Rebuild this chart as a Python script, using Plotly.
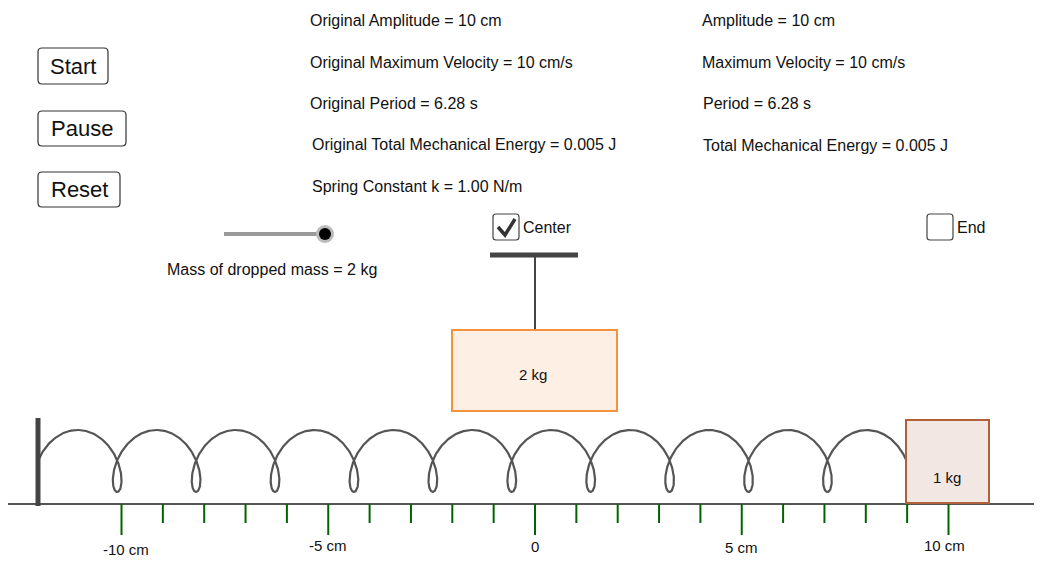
import numpy as np
import plotly.graph_objects as go

# ---- data ----
tick_cm = list(range(-10, 11))
major_ticks = [-10, -5, 0, 5, 10]
tick_labels = ["-10 cm", "-5 cm", "0", "5 cm", "10 cm"]
orig_lines = ["Original Amplitude = 10 cm", "Original Maximum Velocity = 10 cm/s",
              "Original Period = 6.28 s", "Original Total Mechanical Energy = 0.005 J",
              "Spring Constant k = 1.00 N/m"]
cur_lines = ["Amplitude = 10 cm", "Maximum Velocity = 10 cm/s", "Period = 6.28 s",
             "Total Mechanical Energy = 0.005 J"]
buttons = ["Start", "Pause", "Reset"]
block_mass = "1 kg"
dropped_mass = "2 kg"
n_loops = 10

W, H = 1042, 575
OFF = 8  # page body margin
X0PX, PXCM = 535.0, 41.35
def cm(px):
    return (px - X0PX) / PXCM

fig = go.Figure()
FONT = "Liberation Sans, Arial, sans-serif"
shapes, ann = [], []

shapes.append(dict(type="line", x0=cm(-20), x1=cm(W + 20), y0=504, y1=504, line=dict(color="#555", width=2)))
for t in tick_cm:
    shapes.append(dict(type="line", x0=t, x1=t, y0=504, y1=535 if t in major_ticks else 523,
                       line=dict(color="#006400", width=2)))
ylab = [549, 545, 546, 547, 545]
for t, lab, yy in zip(major_ticks, tick_labels, ylab):
    ann.append(dict(x=t + (0.1 if t == -10 else -0.1 if t == 10 else 0), y=yy, text=lab, showarrow=False,
                    font=dict(size=15, color="#111")))

shapes.append(dict(type="line", x0=cm(38), x1=cm(38), y0=418, y1=506, line=dict(color="#444", width=5)))

t = np.linspace(0, (2 * n_loops + 1) * np.pi, 3000)
k, R, yc, Ry, xs = 12.56, 20, 461, 31, 58
sx = xs + k * t - R * np.cos(t)
sy = yc - Ry * np.sin(t)
fig.add_trace(go.Scatter(x=cm(sx), y=sy, mode="lines", line=dict(color="#555", width=2.2),
                         hoverinfo="skip", showlegend=False))

shapes.append(dict(type="rect", x0=cm(906), x1=cm(989), y0=420, y1=503,
                   fillcolor="#f3e7e3", line=dict(color="#b0603a", width=2)))
ann.append(dict(x=cm(947), y=477, text=block_mass, showarrow=False, font=dict(size=15, color="#111")))

shapes.append(dict(type="line", x0=cm(535), x1=cm(535), y0=255, y1=330, line=dict(color="#444", width=2)))
shapes.append(dict(type="line", x0=cm(490), x1=cm(578), y0=255, y1=255, line=dict(color="#444", width=5)))
shapes.append(dict(type="rect", x0=cm(452), x1=cm(617), y0=330, y1=411,
                   fillcolor="#fdefe4", line=dict(color="#f5923e", width=2)))
ann.append(dict(x=cm(533), y=374, text=dropped_mass, showarrow=False, font=dict(size=15, color="#111")))

bx = [(38, 108, 48, 84), (38, 126, 111, 146), (38, 120, 172, 207)]
for lab, (a, b, c, d) in zip(buttons, bx):
    shapes.append(dict(type="path",
        path=f"M {cm(a+4)},{c} L {cm(b-4)},{c} Q {cm(b)},{c} {cm(b)},{c+4} L {cm(b)},{d-4} Q {cm(b)},{d} {cm(b-4)},{d} "
             f"L {cm(a+4)},{d} Q {cm(a)},{d} {cm(a)},{d-4} L {cm(a)},{c+4} Q {cm(a)},{c} {cm(a+4)},{c} Z",
        line=dict(color="#333", width=1.2), fillcolor="white"))
    ann.append(dict(x=cm((a + b) / 2), y=(c + d) / 2, text=lab, showarrow=False,
                    font=dict(size=22, color="#111", family=FONT)))

shapes.append(dict(type="line", x0=cm(224), x1=cm(325), y0=234, y1=234, line=dict(color="#999", width=4)))
shapes.append(dict(type="circle", x0=cm(316), x1=cm(334), y0=225, y1=243, fillcolor="#bbb", line=dict(width=0)))
shapes.append(dict(type="circle", x0=cm(319), x1=cm(331), y0=228, y1=240, fillcolor="#000", line=dict(width=0)))
ann.append(dict(x=cm(165), y=269, text="Mass of dropped mass = 2 kg", showarrow=False, xanchor="left",
                font=dict(size=16, color="#111")))

for (a, lab) in [(493, "Center"), (927, "End")]:
    shapes.append(dict(type="path", layer="below",
        path=f"M {cm(a+3)},214 L {cm(a+23)},214 Q {cm(a+26)},214 {cm(a+26)},217 L {cm(a+26)},237 Q {cm(a+26)},240 {cm(a+23)},240 "
             f"L {cm(a+3)},240 Q {cm(a)},240 {cm(a)},237 L {cm(a)},217 Q {cm(a)},214 {cm(a+3)},214 Z",
        line=dict(color="#444", width=1.2), fillcolor="white"))
    ann.append(dict(x=cm(a + 28), y=227, text=lab, showarrow=False, xanchor="left",
                    font=dict(size=16, color="#111")))
fig.add_trace(go.Scatter(x=cm(np.array([498, 505, 515])), y=[227, 235, 219], mode="lines",
                         line=dict(color="#333", width=3.5), hoverinfo="skip", showlegend=False))

for lab, yy, xx in zip(orig_lines, [20, 62, 103, 144, 186], [308, 308, 308, 310, 310]):
    ann.append(dict(x=cm(xx), y=yy, text=lab, showarrow=False, xanchor="left", font=dict(size=16, color="#111")))
for lab, yy, xx in zip(cur_lines, [20, 62, 103, 145], [700, 700, 701, 701]):
    ann.append(dict(x=cm(xx), y=yy, text=lab, showarrow=False, xanchor="left", font=dict(size=16, color="#111")))

fig.update_layout(width=W, height=H, margin=dict(l=0, r=0, t=0, b=0),
                  paper_bgcolor="white", plot_bgcolor="white",
                  font=dict(family=FONT), shapes=shapes, annotations=ann,
                  xaxis=dict(range=[cm(OFF), cm(W + OFF)], visible=False, fixedrange=True),
                  yaxis=dict(range=[H + OFF, OFF], visible=False, fixedrange=True))
fig.write_html("out.html", config={"displayModeBar": False})
